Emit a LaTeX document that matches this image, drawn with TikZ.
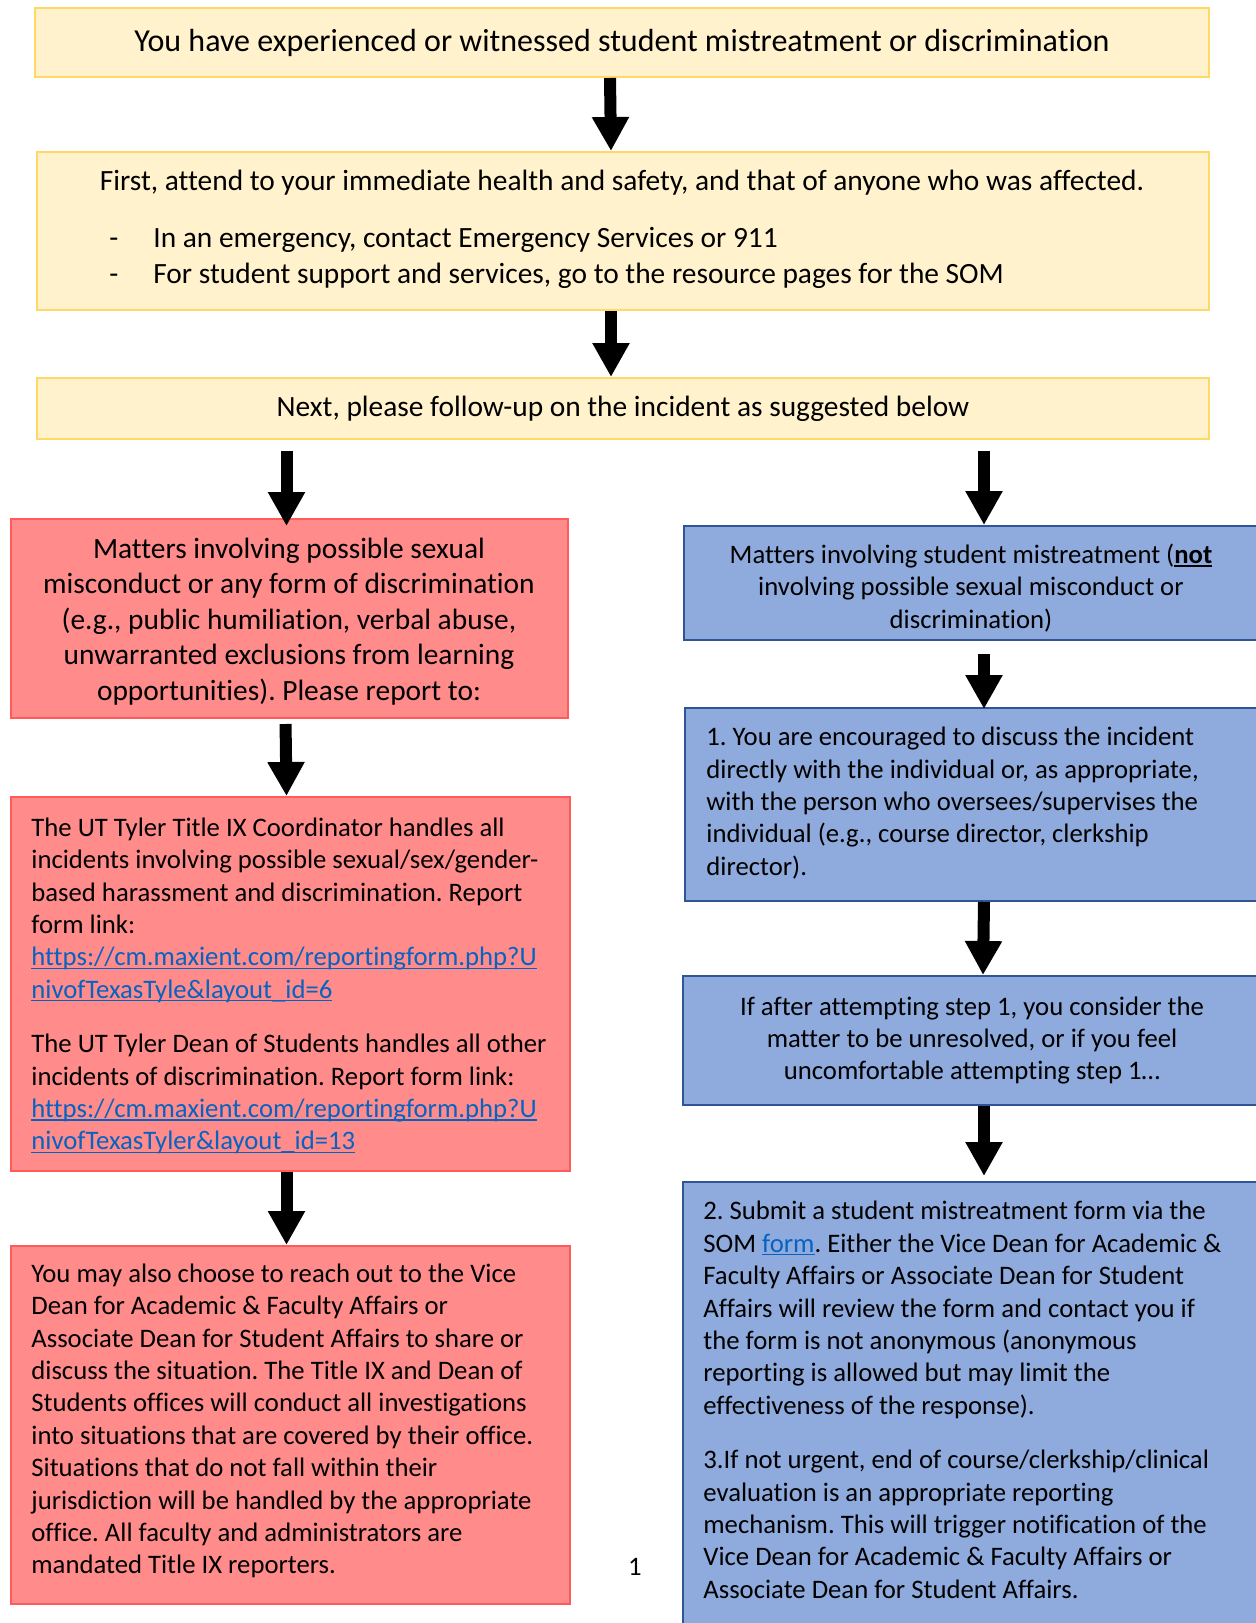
\documentclass[tikz,border=0pt]{standalone}
\usepackage{fontspec}
\setmainfont{Carlito}[Ligatures=NoCommon]
\usepackage{xcolor}
\usetikzlibrary{arrows.meta, positioning}

\definecolor{yelfill}{HTML}{FFF2CC}
\definecolor{yeldraw}{HTML}{FFD966}
\definecolor{redfill}{HTML}{FF8B8B}
\definecolor{reddraw}{HTML}{FF5B5B}
\definecolor{bluefill}{HTML}{8FAADC}
\definecolor{bluedraw}{HTML}{2F5597}
\definecolor{linkblue}{HTML}{0563C1}
\newcommand{\ulbox}[1]{\setbox0\hbox{#1}\rlap{\rule[-1.5pt]{\wd0}{0.7pt}}\box0}
\newcommand{\lnk}[1]{\textcolor{linkblue}{\ulbox{#1}}}
\frenchspacing

\begin{document}
\begin{tikzpicture}[
  x=0.5pt, y=-0.5pt,
  yelbox/.style={draw=yeldraw, fill=yelfill, line width=1pt, anchor=north west, inner sep=0pt, align=center},
  redbox/.style={draw=reddraw, fill=redfill, line width=1pt, anchor=north west, inner sep=0pt, align=center},
  bluebox/.style={draw=bluedraw, fill=bluefill, line width=1pt, anchor=north west, inner sep=0pt, align=center},
  txt/.style={align=left, anchor=west, inner sep=0pt},
  ctxt/.style={align=center, inner sep=0pt},
  bigtxt/.style={font=\fontsize{16}{19.5}\selectfont},
  midtxt/.style={font=\fontsize{14.7}{17.8}\selectfont},
  smalltxt/.style={font=\fontsize{13.35}{16.2}\selectfont},
  arr/.style={-{Triangle[length=17pt, width=17.5pt]}, line width=6pt}
]
  \useasboundingbox (0,0) rectangle (1256,1623);

  % top of the chart
  \node[yelbox, bigtxt, minimum width=587pt, minimum height=34.5pt] (start) at (34,7)
    {You have experienced or witnessed student mistreatment or discrimination};
  \node[yelbox, minimum width=586pt, minimum height=79pt] (safety) at (36,151) {};
  \node[ctxt, midtxt] (safetyhead) at (622,183)
    {First, attend to your immediate health and safety, and that of anyone who was affected.};
  \node[txt, midtxt] (safetylist) at (109,258)
    {\makebox[22pt][l]{-}In an emergency, contact Emergency Services or 911\\
     \makebox[22pt][l]{-}For student support and services, go to the resource pages for the SOM};
  \node[yelbox, midtxt, minimum width=586pt, minimum height=30.5pt] (next) at (36,377)
    {Next, please follow-up on the incident as suggested below};

  % left column
  \node[redbox, minimum width=278.5pt, minimum height=99.5pt] (sexual) at (10,518) {};
  \node[ctxt, midtxt] (sexualtxt) at (289,621.5)
    {Matters involving possible sexual\\ misconduct or any form of discrimination\\
     (e.g., public humiliation, verbal abuse,\\ unwarranted exclusions from learning\\
     opportunities). Please report to:};
  \node[redbox, minimum width=279.5pt, minimum height=187pt] (titleix) at (10,796) {};
  \node[txt, smalltxt] (titleixtxt) at (31,986)
    {The UT Tyler Title IX Coordinator handles all\\
     incidents involving possible sexual/sex/gender-\\
     based harassment and discrimination. Report\\
     form link:\\
     \lnk{https://cm.maxient.com/reportingform.php?U}\\
     \lnk{nivofTexasTyle\&layout\_id=6}\\[11pt]
     The UT Tyler Dean of Students handles all other\\
     incidents of discrimination. Report form link:\\
     \lnk{https://cm.maxient.com/reportingform.php?U}\\
     \lnk{nivofTexasTyler\&layout\_id=13}};
  \node[redbox, minimum width=279.5pt, minimum height=179pt] (reach) at (10,1245) {};
  \node[txt, smalltxt] (reachtxt) at (31,1421)
    {You may also choose to reach out to the Vice\\
     Dean for Academic \& Faculty Affairs or\\
     Associate Dean for Student Affairs to share or\\
     discuss the situation. The Title IX and Dean of\\
     Students offices will conduct all investigations\\
     into situations that are covered by their office.\\
     Situations that do not fall within their\\
     jurisdiction will be handled by the appropriate\\
     office. All faculty and administrators are\\
     mandated Title IX reporters.};

  % right column
  \node[bluebox, minimum width=289pt, minimum height=57pt] (mistreat) at (683,525) {};
  \node[ctxt, smalltxt] (mistreattxt) at (971,588)
    {Matters involving student mistreatment (\ulbox{\textbf{not}}\\
     involving possible sexual misconduct or\\ discrimination)};
  \node[bluebox, minimum width=288pt, minimum height=96.5pt] (discuss) at (684,707) {};
  \node[txt, smalltxt] (discusstxt) at (706,803)
    {1. You are encouraged to discuss the incident\\
     directly with the individual or, as appropriate,\\
     with the person who oversees/supervises the\\
     individual (e.g., course director, clerkship\\
     director).};
  \node[bluebox, smalltxt, minimum width=289pt, minimum height=64.5pt] (unresolved) at (682,975)
    {If after attempting step 1, you consider the\\
     matter to be unresolved, or if you feel\\
     uncomfortable attempting step 1…};
  \node[bluebox, minimum width=289pt, minimum height=230pt] (submit) at (682,1181) {};
  \node[txt, smalltxt] (submittxt) at (703,1400)
    {2. Submit a student mistreatment form via the\\
     SOM \lnk{form}. Either the Vice Dean for Academic \&\\
     Faculty Affairs or Associate Dean for Student\\
     Affairs will review the form and contact you if\\
     the form is not anonymous (anonymous\\
     reporting is allowed but may limit the\\
     effectiveness of the response).\\[11pt]
     3.If not urgent, end of course/clerkship/clinical\\
     evaluation is an appropriate reporting\\
     mechanism. This will trigger notification of the\\
     Vice Dean for Academic \& Faculty Affairs or\\
     Associate Dean for Student Affairs.};

  \node[smalltxt, inner sep=0pt] (pagenum) at (635,1567) {1};

  % arrows
  \draw[arr] ([xshift=-6pt]start.south) -- ([xshift=-6pt]safety.north);
  \draw[arr] ([xshift=-6pt]safety.south) -- ([xshift=-6pt]next.north);
  \draw[arr, shorten <=5.5pt, shorten >=-4pt] ([xshift=-1.5pt]next.south -| sexual.north) -- ([xshift=-1.5pt]sexual.north);
  \draw[arr, shorten <=2.5pt] ([xshift=-2pt]sexual.south) -- ([xshift=-2pt]titleix.north);
  \draw[arr] ([xshift=-2pt]titleix.south) -- ([xshift=-2pt]reach.north);
  \draw[arr, shorten <=5.5pt] ([xshift=5.5pt]next.south -| mistreat.north) -- ([xshift=5.5pt]mistreat.north);
  \draw[arr, shorten <=6.5pt, shorten >=-1pt] ([xshift=5.5pt]mistreat.south) -- ([xshift=5.5pt]discuss.north);
  \draw[arr] ([xshift=5.5pt]discuss.south) -- ([xshift=5.5pt]unresolved.north);
  \draw[arr, shorten >=2.5pt] ([xshift=6pt]unresolved.south) -- ([xshift=6pt]submit.north);
\end{tikzpicture}
\end{document}
